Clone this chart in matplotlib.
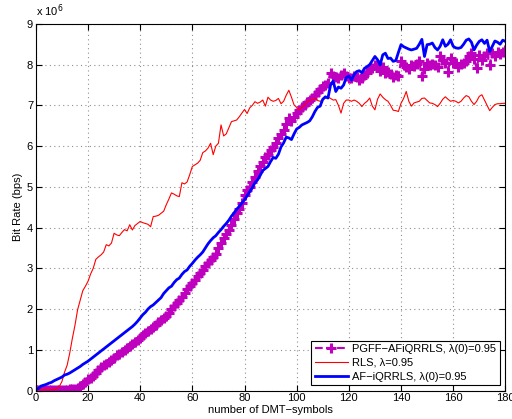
import numpy as np
import matplotlib
matplotlib.use("Agg")
import matplotlib.pyplot as plt

plt.rcParams['font.family'] = ['Liberation Sans', 'DejaVu Sans']

# symbol index 0..180, bit rate in units of 1e6 bps
symbols = np.arange(0, 181)

pgff = [
    0.02, 0.02, 0.02, 0.02, 0.02, 0.02, 0.02, 0.02, 0.02, 0.02,
    0.02, 0.02, 0.02, 0.03, 0.03, 0.04, 0.06, 0.10, 0.15, 0.22,
    0.28, 0.30, 0.36, 0.42, 0.50, 0.58, 0.62, 0.66, 0.70, 0.75,
    0.80, 0.86, 0.90, 0.95, 1.00, 1.05, 1.10, 1.14, 1.18, 1.24,
    1.30, 1.36, 1.42, 1.47, 1.52, 1.57, 1.62, 1.67, 1.72, 1.78,
    1.84, 1.90, 2.00, 2.08, 2.15, 2.22, 2.30, 2.40, 2.48, 2.56,
    2.65, 2.72, 2.80, 2.88, 2.96, 3.05, 3.12, 3.20, 3.28, 3.36,
    3.50, 3.62, 3.74, 3.84, 3.95, 4.06, 4.20, 4.35, 4.45, 4.60,
    4.80, 4.92, 5.00, 5.12, 5.25, 5.38, 5.50, 5.60, 5.72, 5.78,
    5.90, 5.98, 6.08, 6.20, 6.30, 6.40, 6.55, 6.68, 6.62, 6.72,
    6.82, 6.88, 6.95, 7.02, 7.08, 7.13, 7.18, 7.25, 7.34, 7.40,
    7.48, 7.50, 7.55, 7.80, 7.72, 7.70, 7.68, 7.75, 7.80, 7.72,
    7.66, 7.68, 7.72, 7.70, 7.62, 7.68, 7.75, 7.80, 7.90, 7.92,
    8.00, 7.98, 7.84, 7.95, 7.80, 7.82, 7.78, 7.70, 7.75, 7.72,
    8.08, 7.98, 7.95, 7.90, 7.98, 7.96, 8.02, 8.08, 7.72, 7.90,
    8.03, 8.00, 8.02, 7.98, 7.95, 8.20, 8.12, 8.05, 7.83, 8.16,
    8.05, 8.03, 7.95, 8.02, 8.05, 8.10, 8.22, 8.28, 8.15, 7.91,
    8.24, 8.12, 8.20, 8.28, 7.99, 8.28, 8.22, 8.30, 8.26, 8.32,
    8.36,
]

rls = [
    0.02, 0.02, 0.02, 0.02, 0.02, 0.02, 0.02, 0.03, 0.05, 0.10,
    0.22, 0.45, 0.62, 0.92, 1.28, 1.60, 1.98, 2.22, 2.45, 2.56,
    2.68, 2.86, 3.00, 3.22, 3.28, 3.33, 3.40, 3.58, 3.55, 3.62,
    3.86, 3.82, 3.80, 3.88, 3.95, 3.92, 4.07, 3.94, 4.05, 4.10,
    4.15, 4.12, 4.10, 4.08, 4.02, 4.27, 4.28, 4.30, 4.35, 4.40,
    4.56, 4.70, 4.85, 4.82, 4.78, 4.76, 5.10, 5.07, 5.12, 5.30,
    5.50, 5.54, 5.58, 5.65, 5.84, 5.88, 5.95, 6.07, 5.79, 6.00,
    6.07, 6.52, 6.25, 6.30, 6.45, 6.60, 6.62, 6.64, 6.72, 6.81,
    6.90, 6.80, 6.94, 7.00, 7.09, 7.05, 7.08, 7.13, 6.98, 7.20,
    7.13, 7.10, 7.12, 7.17, 7.04, 7.10, 7.25, 7.37, 7.20, 7.01,
    6.95, 6.89, 6.95, 7.01, 7.09, 7.12, 7.14, 7.17, 7.12, 7.10,
    7.13, 7.18, 7.21, 7.17, 7.13, 7.14, 7.00, 6.81, 7.05, 7.13,
    7.13, 7.10, 7.13, 7.10, 7.05, 6.97, 7.05, 7.10, 7.18, 6.98,
    6.89, 7.15, 7.28, 7.20, 7.14, 7.10, 7.00, 6.88, 6.87, 6.85,
    7.05, 7.17, 7.34, 7.10, 6.98, 7.06, 7.08, 7.10, 7.17, 7.18,
    7.12, 7.06, 7.05, 7.02, 6.97, 7.05, 7.15, 7.21, 7.15, 7.10,
    7.12, 7.10, 7.06, 7.10, 7.18, 7.24, 7.21, 7.10, 7.02, 7.10,
    7.22, 7.26, 7.13, 7.00, 6.87, 6.95, 7.02, 7.04, 7.04, 7.05,
    7.05,
]

af_iqrrls = [
    0.02, 0.05, 0.11, 0.13, 0.15, 0.18, 0.20, 0.24, 0.27, 0.30,
    0.33, 0.38, 0.40, 0.43, 0.47, 0.51, 0.55, 0.59, 0.64, 0.68,
    0.72, 0.77, 0.82, 0.87, 0.92, 0.97, 1.02, 1.07, 1.12, 1.17,
    1.22, 1.27, 1.32, 1.37, 1.42, 1.47, 1.52, 1.57, 1.63, 1.70,
    1.78, 1.86, 1.92, 2.00, 2.06, 2.10, 2.16, 2.22, 2.28, 2.38,
    2.45, 2.52, 2.56, 2.65, 2.72, 2.76, 2.85, 2.92, 2.96, 3.05,
    3.12, 3.20, 3.27, 3.33, 3.40, 3.50, 3.60, 3.68, 3.75, 3.80,
    3.88, 3.95, 4.03, 4.10, 4.18, 4.28, 4.36, 4.45, 4.52, 4.60,
    4.68, 4.78, 4.88, 4.98, 5.10, 5.17, 5.28, 5.40, 5.45, 5.50,
    5.62, 5.72, 5.70, 5.80, 5.98, 6.08, 6.22, 6.20, 6.16, 6.30,
    6.42, 6.46, 6.52, 6.55, 6.58, 6.62, 6.72, 6.85, 6.95, 6.98,
    7.15, 7.21, 7.18, 7.50, 7.60, 7.34, 7.45, 7.42, 7.50, 7.68,
    7.72, 7.62, 7.75, 7.83, 7.85, 7.80, 7.91, 7.95, 8.00, 8.10,
    8.20, 8.12, 7.99, 8.24, 8.28, 8.15, 8.16, 8.08, 8.10, 8.30,
    8.49, 8.44, 8.41, 8.38, 8.36, 8.38, 8.40, 8.50, 8.62, 8.20,
    8.49, 8.50, 8.53, 8.42, 8.36, 8.45, 8.61, 8.45, 8.50, 8.61,
    8.45, 8.41, 8.40, 8.42, 8.50, 8.60, 8.63, 8.55, 8.36, 8.48,
    8.57, 8.61, 8.52, 8.60, 8.32, 8.45, 8.58, 8.55, 8.50, 8.60,
    8.57,
]

fig = plt.figure(figsize=(5.12, 4.19), dpi=100)
ax = fig.add_axes([0.070, 0.068, 0.917, 0.875])

ax.plot(symbols, pgff, color='#bf00bf', linestyle='--', linewidth=1.5,
        marker='+', markersize=7, markeredgewidth=2.2,
        label=u'PGFF\u2212AFiQRRLS, \u03bb(0)=0.95')
ax.plot(symbols, rls, color='#ff0000', linewidth=0.8,
        label=u'RLS, \u03bb=0.95')
ax.plot(symbols, af_iqrrls, color='#0000ff', linewidth=2.0,
        label=u'AF\u2212iQRRLS, \u03bb(0)=0.95')

ax.set_xlim(0, 180)
ax.set_ylim(0, 9)
ax.set_xticks(np.arange(0, 181, 20))
ax.set_yticks(np.arange(0, 10, 1))
ax.tick_params(direction='in', top=True, right=True, labelsize=8, length=4, pad=2)
ax.grid(True, linestyle=(0, (1, 3)), color='#909090', linewidth=0.8)
for s in ax.spines.values():
    s.set_linewidth(0.8)

ax.set_xlabel(u'number of DMT\u2212symbols', fontsize=8, labelpad=1)
ax.set_ylabel('Bit Rate (bps)', fontsize=8, labelpad=3)
ax.text(0.0, 1.012, r'x 10$^{6}$', transform=ax.transAxes, fontsize=8,
        ha='left', va='bottom')

lg = ax.legend(loc='lower right', fontsize=8, handlelength=3,
               handletextpad=0.4, numpoints=1,
               fancybox=False, edgecolor='black', framealpha=1,
               borderpad=0.3, labelspacing=0.35, borderaxespad=0.5)
lg.get_frame().set_linewidth(0.8)

fig.savefig('out.png', dpi=100)
